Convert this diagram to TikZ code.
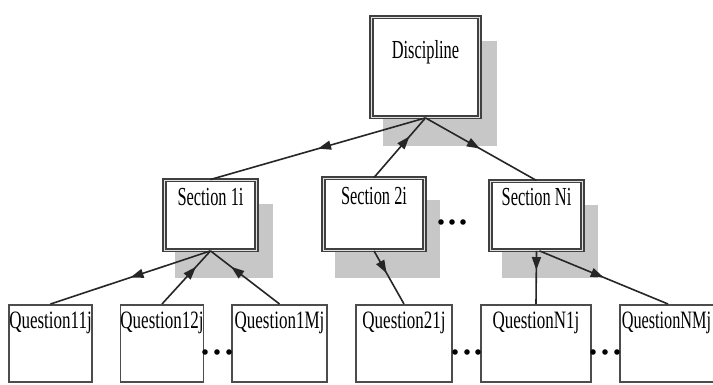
\documentclass[tikz,border=0pt]{standalone}
\usepackage{fontspec}
\setmainfont{Liberation Serif}
\usepackage{graphicx}
\usetikzlibrary{arrows.meta,decorations.markings}
\tikzset{
  shadowbox/.style={fill=black!22, draw=none},
  dbox/.style={draw=black!75, line width=1.4pt, double=black!12, double distance=1.3pt,
     fill=white, inner sep=0pt, anchor=north, font=\fontsize{26}{26}\selectfont},
  qbox/.style={draw=black!70, line width=1.5pt, fill=white, inner sep=0pt, anchor=north,
     font=\fontsize{25}{25}\selectfont},
  edge/.style={draw=black!85, line width=1.6pt},
  midarrow/.style={postaction={decorate,decoration={markings,
     mark=at position #1 with {\arrow{Triangle[length=13pt,width=9pt]}}}}},
  dotmark/.style={fill=black, draw=none}
}
\newcommand{\sq}[1]{\scalebox{0.63}[1]{#1}}
\newcommand{\sqq}[1]{\scalebox{0.68}[1]{#1}}
\begin{document}
\begin{tikzpicture}[x=1pt,y=-1pt]
\clip (0,0) rectangle (713,384);
\fill[white] (0,0) rectangle (713,384);
% shadows
\fill[shadowbox] (383,41) rectangle (497,146);
\fill[shadowbox] (175,204) rectangle (273,278);
\fill[shadowbox] (335,200) rectangle (440,278);
\fill[shadowbox] (502,205) rectangle (598,278);
% boxes
\node[dbox, minimum width=108pt, text height=41.5pt, text depth=58.5pt] (D) at (425.5,16.5) {\sq{Discipline}};
\node[dbox, minimum width=92pt, text height=25.5pt, text depth=44.5pt] (S1) at (210.5,179.5) {\sq{Section 1i}};
\node[dbox, minimum width=101pt, text height=26.5pt, text depth=45.5pt] (S2) at (374,177.5) {\sq{Section 2i}};
\node[dbox, minimum width=92pt, text height=24.5pt, text depth=44.5pt] (SN) at (536.5,180.5) {\sq{Section Ni}};
\node[qbox, minimum width=83pt, text height=24pt, text depth=53pt] (Q11) at (50.5,304) {\sqq{Question11j}};
\node[qbox, minimum width=82pt, text height=24pt, text depth=53pt] (Q12) at (162,304) {\sqq{Question12j}};
\node[qbox, minimum width=95pt, text height=24pt, text depth=53pt] (Q1M) at (279.5,304) {\sqq{Question1Mj}};
\node[qbox, minimum width=96pt, text height=24pt, text depth=53pt] (Q21) at (404,304) {\sqq{Question21j}};
\node[qbox, minimum width=110pt, text height=24pt, text depth=53pt] (QN1) at (536,304) {\sqq{QuestionN1j}};
\node[qbox, minimum width=96pt, text height=24pt, text depth=53pt] (QNM) at (668,304) {\hspace*{-3pt}\scalebox{0.65}[1]{QuestionNMj}};
% connectors
\path[edge, midarrow=0.50] (D.south) -- (S1.north);
\path[edge, midarrow=0.69] (S2.north) -- (D.south);
\path[edge, midarrow=0.49] (D.south) -- (SN.north);
\path[edge, midarrow=0.50] (S1.south) -- (Q11.north);
\path[edge, midarrow=0.70] (Q12.north) -- (S1.south);
\path[edge, midarrow=0.70] (Q1M.north) -- (S1.south);
\path[edge, midarrow=0.42] (S2.south) -- (Q21.north);
\path[edge, midarrow=0.36] (SN.south) -- (QN1.north);
\path[edge, midarrow=0.50] ([xshift=3pt]SN.south) -- (QNM.north);
% ellipsis dots
\foreach \x in {441,452,463} \fill[dotmark] (\x,222) circle (2.8);
\foreach \x in {205,217,229} \fill[dotmark] (\x,352) circle (2.8);
\foreach \x in {455,467,478} \fill[dotmark] (\x,352) circle (2.8);
\foreach \x in {593,605,617} \fill[dotmark] (\x,352) circle (2.8);
\end{tikzpicture}
\end{document}
